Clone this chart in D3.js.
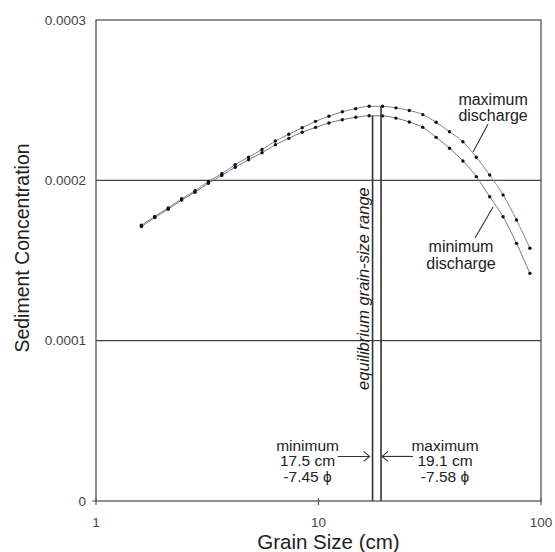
<!DOCTYPE html>
<html>
<head>
<meta charset="utf-8">
<script src="https://cdn.jsdelivr.net/npm/d3@7"></script>
<style>
  body { margin: 0; background: #fff; }
  text { font-family: "Liberation Sans", Arial, Helvetica, sans-serif; }
</style>
</head>
<body>
<svg id="chart" width="555" height="552"></svg>
<script>
// grain sizes (cm), one point every 0.2 phi from -4 to -9.8
grainSize = [1.600, 1.838, 2.111, 2.425, 2.786, 3.200, 3.676, 4.222, 4.850, 5.572,
             6.400, 7.352, 8.445, 9.701, 11.14, 12.80, 14.70, 16.89, 19.40, 22.29,
             25.60, 29.41, 33.78, 38.80, 44.57, 51.20, 58.81, 67.56, 77.61, 89.15]
maxDischarge = [0.0001720, 0.0001775, 0.0001828, 0.0001885, 0.0001935, 0.0001993, 0.0002042, 0.0002098, 0.0002145, 0.0002192,
                0.0002245, 0.0002287, 0.0002328, 0.0002368, 0.0002400, 0.0002428, 0.0002447, 0.0002462, 0.0002462, 0.0002452,
                0.0002436, 0.0002410, 0.0002362, 0.0002303, 0.0002241, 0.0002144, 0.0002033, 0.0001909, 0.0001753, 0.0001576]
minDischarge = [0.0001712, 0.0001768, 0.0001820, 0.0001877, 0.0001926, 0.0001982, 0.0002030, 0.0002082, 0.0002128, 0.0002172,
                0.0002222, 0.0002262, 0.0002300, 0.0002330, 0.0002358, 0.0002378, 0.0002393, 0.0002403, 0.0002402, 0.0002388,
                0.0002364, 0.0002331, 0.0002268, 0.0002200, 0.0002121, 0.0002023, 0.0001898, 0.0001773, 0.0001607, 0.0001420]

// equilibrium range: sizes (cm) and where each line meets its curve
rangeSize = [17.5, 19.1]
rangeTop = [0.0002401, 0.0002462]
rangePhi = ["-7.45 \u03d5", "-7.58 \u03d5"]

yTicks = [0, 0.0001, 0.0002, 0.0003]
yTickLabels = ["0", "0.0001", "0.0002", "0.0003"]
xTicks = [1, 10, 100]

margin = {top: 20, right: 14, bottom: 51, left: 96}
W = 555 - margin.left - margin.right
H = 552 - margin.top - margin.bottom

svg = d3.select("#chart")
g = svg.append("g").attr("transform", "translate(" + margin.left + "," + margin.top + ")")

x = d3.scaleLog().domain([1, 100]).range([0, W])
y = d3.scaleLinear().domain([0, 0.0003]).range([H, 0])

// frame + horizontal grid
g.append("rect").attr("width", W).attr("height", H)
  .attr("fill", "none").attr("stroke", "#555").attr("stroke-width", 1.3)
g.selectAll(".grid").data(yTicks.slice(1, 3)).join("line").attr("class", "grid")
  .attr("x1", 0).attr("x2", W)
  .attr("y1", d => y(d)).attr("y2", d => y(d))
  .attr("stroke", "#444").attr("stroke-width", 1.3)

// y tick labels
g.selectAll(".ylab").data(yTicks).join("text").attr("class", "ylab")
  .attr("x", -10).attr("y", d => y(d)).attr("dy", "0.35em")
  .attr("text-anchor", "end").attr("font-size", 13.5).attr("fill", "#444")
  .text((d, i) => yTickLabels[i])
g.append("line").attr("x1", -4).attr("x2", 0).attr("y1", H).attr("y2", H).attr("stroke", "#555")

// x ticks
g.selectAll(".xtick").data(xTicks).join("line").attr("class", "xtick")
  .attr("x1", d => x(d)).attr("x2", d => x(d))
  .attr("y1", H - 3).attr("y2", H + 4)
  .attr("stroke", "#555").attr("stroke-width", 1.2)
g.selectAll(".xlab").data(xTicks).join("text").attr("class", "xlab")
  .attr("x", d => x(d)).attr("y", H + 21).attr("dy", "0.35em")
  .attr("text-anchor", "middle").attr("font-size", 13.5).attr("fill", "#444")
  .text(d => d)

// axis titles
g.append("text").attr("x", W / 2 + 10).attr("y", H + 48)
  .attr("text-anchor", "middle").attr("font-size", 20.5).attr("fill", "#222")
  .text("Grain Size (cm)")
g.append("text").attr("transform", "translate(" + (-67) + "," + (H / 2 - 12.5) + ") rotate(-90)")
  .attr("text-anchor", "middle").attr("font-size", 19.5).attr("fill", "#222")
  .text("Sediment Concentration")

// curves
maxData = grainSize.map((d, i) => ({x: d, y: maxDischarge[i]}))
minData = grainSize.map((d, i) => ({x: d, y: minDischarge[i]}))
line = d3.line().x(d => x(d.x)).y(d => y(d.y)).curve(d3.curveMonotoneX)

g.append("path").datum(minData).attr("d", line)
  .attr("fill", "none").attr("stroke", "#777").attr("stroke-width", 1)
g.append("path").datum(maxData).attr("d", line)
  .attr("fill", "none").attr("stroke", "#7d7db8").attr("stroke-width", 1)

g.selectAll(".minpt").data(minData).join("circle").attr("class", "minpt")
  .attr("cx", d => x(d.x)).attr("cy", d => y(d.y)).attr("r", 1.7).attr("fill", "#111")
g.selectAll(".maxpt").data(maxData).join("circle").attr("class", "maxpt")
  .attr("cx", d => x(d.x)).attr("cy", d => y(d.y)).attr("r", 1.7).attr("fill", "#111")

// equilibrium range lines
g.selectAll(".range").data(rangeSize).join("line").attr("class", "range")
  .attr("x1", d => x(d)).attr("x2", d => x(d))
  .attr("y1", (d, i) => y(rangeTop[i])).attr("y2", H)
  .attr("stroke", "#333").attr("stroke-width", 1.6)

g.append("text")
  .attr("transform", "translate(" + (x(rangeSize[0]) - 4) + "," + (y(0.0001325)) + ") rotate(-90)")
  .attr("text-anchor", "middle").attr("font-size", 16.5).attr("font-style", "italic").attr("fill", "#222")
  .text("equilibrium grain-size range")

// min / max annotations at bottom
arrowY = y(0.0000278)
function chevron(xTip, dir){
  g.append("path")
    .attr("d", "M" + (xTip - dir * 6) + "," + (arrowY - 5) + "L" + xTip + "," + arrowY + "L" + (xTip - dir * 6) + "," + (arrowY + 5))
    .attr("fill", "none").attr("stroke", "#333").attr("stroke-width", 1.1)
}
g.append("line").attr("x1", x(rangeSize[0]) - 35).attr("x2", x(rangeSize[0]) - 3)
  .attr("y1", arrowY).attr("y2", arrowY).attr("stroke", "#333").attr("stroke-width", 1.1)
chevron(x(rangeSize[0]) - 3, 1)
g.append("line").attr("x1", x(rangeSize[1]) + 32).attr("x2", x(rangeSize[1]) + 1)
  .attr("y1", arrowY).attr("y2", arrowY).attr("stroke", "#333").attr("stroke-width", 1.1)
chevron(x(rangeSize[1]) + 1, -1)

labels = [
  {cx: x(rangeSize[0]) - 65, lines: ["minimum", rangeSize[0] + " cm", rangePhi[0]]},
  {cx: x(rangeSize[1]) + 64, lines: ["maximum", rangeSize[1] + " cm", rangePhi[1]]}
]
labels.forEach(function(l){
  t = g.append("text").attr("text-anchor", "middle").attr("font-size", 15.5).attr("fill", "#222")
  l.lines.forEach(function(s, j){
    t.append("tspan").attr("x", l.cx).attr("y", arrowY - 11 + j * 15.5).attr("dy", "0.35em").text(s)
  })
})

// curve labels on the right
function curveLabel(cx, by, words, from, to){
  t = g.append("text").attr("text-anchor", "middle").attr("font-size", 16).attr("fill", "#222")
  words.forEach(function(s, j){
    t.append("tspan").attr("x", cx).attr("y", by - 1 + j * 16.5).text(s)
  })
  g.append("line").attr("x1", from[0]).attr("y1", from[1]).attr("x2", to[0]).attr("y2", to[1])
    .attr("stroke", "#333").attr("stroke-width", 1.1)
}
curveLabel(x(60.9), y(0.0002466), ["maximum", "discharge"],
  [x(57.8), y(0.0002351)], [x(49.5), y(0.0002177)])
curveLabel(x(43.7), y(0.0001545), ["minimum", "discharge"],
  [x(60.9), y(0.0001834)], [x(50.5), y(0.000164)])
</script>
</body>
</html>
